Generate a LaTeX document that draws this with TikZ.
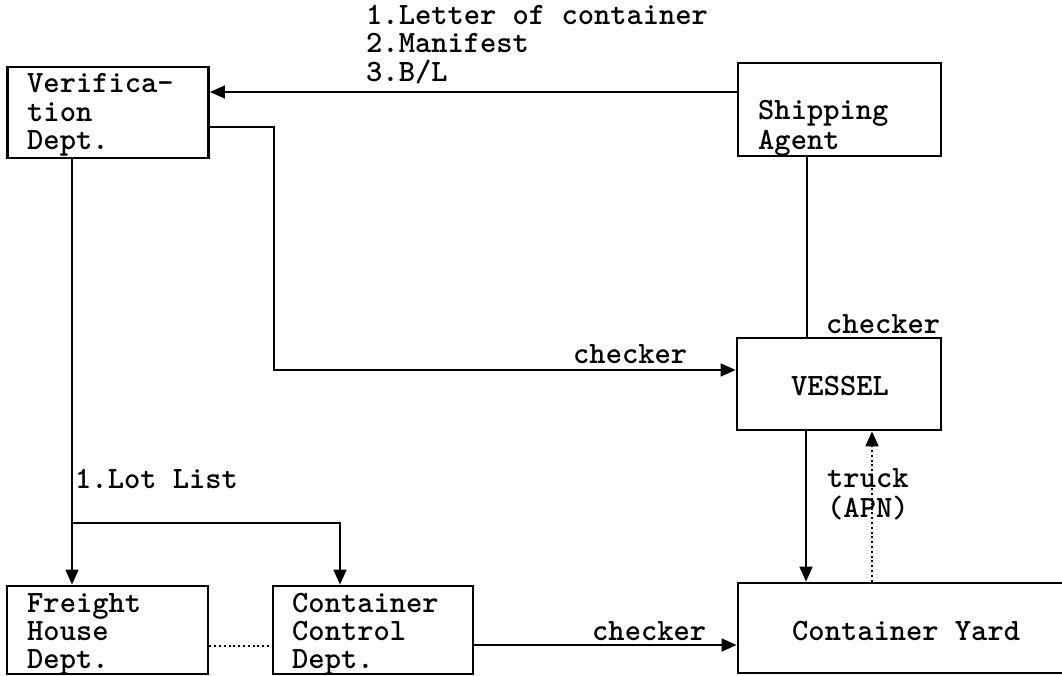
\documentclass[tikz,border=0pt]{standalone}
\usetikzlibrary{arrows.meta,calc}
\begin{document}
\begin{tikzpicture}[x=1pt,y=-1pt,
  box/.style={draw,line width=2.8pt,inner sep=0pt},
  conn/.style={line width=1.5pt},
  tip/.style={-{Triangle[length=15pt,width=13pt]}},
  arr/.style={conn,tip},
  dots/.style={line width=2pt,dash pattern=on 2pt off 2.8pt},
  lbl/.style={anchor=base west,inner sep=0pt,font=\fontsize{31}{28}\selectfont\ttfamily\bfseries}]
\useasboundingbox (0,0) rectangle (1062,676);
\clip (0,0) rectangle (1062,676);
\fill[white] (0,0) rectangle (1062,676);
% boxes
\node[box,minimum width=201pt,minimum height=91pt] (ver) at (108,112.5) {};
\node[box,minimum width=203pt,minimum height=93pt] (ship) at (839.5,109.5) {};
\node[box,minimum width=204pt,minimum height=92pt] (vessel) at (839,384) {};
\node[box,minimum width=201pt,minimum height=88pt] (fh) at (107.5,630) {};
\node[box,minimum width=200pt,minimum height=88pt] (ccd) at (373,630) {};
\node[box,minimum width=352pt,minimum height=90pt] (cy) at (914,628) {};
% box texts
\node[lbl] (t1) at (27,93) {Verifica-};
\node[lbl] (t2) at (27,122) {tion};
\node[lbl] (t3) at (27,150) {Dept.};
\node[lbl] (t4) at (758,120) {Shipping};
\node[lbl] (t5) at (758,150) {Agent};
\node[lbl] (t6) at (791,395) {VESSEL};
\node[lbl] (t7) at (27,612) {Freight};
\node[lbl] (t8) at (27,640) {House};
\node[lbl] (t9) at (27,668) {Dept.};
\node[lbl] (t10) at (292,612) {Container};
\node[lbl] (t11) at (292,640) {Control};
\node[lbl] (t12) at (292,668) {Dept.};
\node[lbl] (t13) at (792,640) {Container Yard};
% connector labels
\node[lbl] (l1) at (366,25) {1.Letter of container};
\node[lbl] (l2) at (366,53) {2.Manifest};
\node[lbl] (l3) at (366,82) {3.B/L};
\node[lbl] (l4) at (573,363) {checker};
\node[lbl] (l5) at (826,333) {checker};
\node[lbl] (l6) at (75,488) {1.Lot List};
\node[lbl] (l7) at (827,487) {truck};
\node[lbl] (l8) at (827,517) {(APN)};
\node[lbl] (l9) at (592,640) {checker};
% connectors
\draw[arr] ([yshift=17.5pt]ship.west) -- ([yshift=17.5pt]ship.west -| ver.east);
\coordinate (c1) at (274,370);
\draw[arr] ([yshift=-14.5pt]ver.east) -| (c1) -- (c1 -| vessel.west);
\draw[conn] ([xshift=-32.5pt]ship.south) -- ([xshift=-32.5pt]ship.south |- vessel.north);
\draw[arr] ([xshift=-33pt]vessel.south) -- ([xshift=-33pt]vessel.south |- cy.north);
\draw[dots,tip] ([xshift=33pt]vessel.south |- cy.north) -- ([xshift=33pt]vessel.south);
\draw[arr] ([xshift=-36pt]ver.south) -- ([xshift=-36pt]ver.south |- fh.north);
\coordinate (br) at (72,523);
\draw[arr] (br) -| ([xshift=-33pt]ccd.north);
\draw[dots] ([yshift=-16pt]fh.east) -- ([yshift=-16pt]fh.east -| ccd.west);
\draw[arr] ([yshift=-15pt]ccd.east) -- ([yshift=-15pt]ccd.east -| cy.west);
\end{tikzpicture}
\end{document}
